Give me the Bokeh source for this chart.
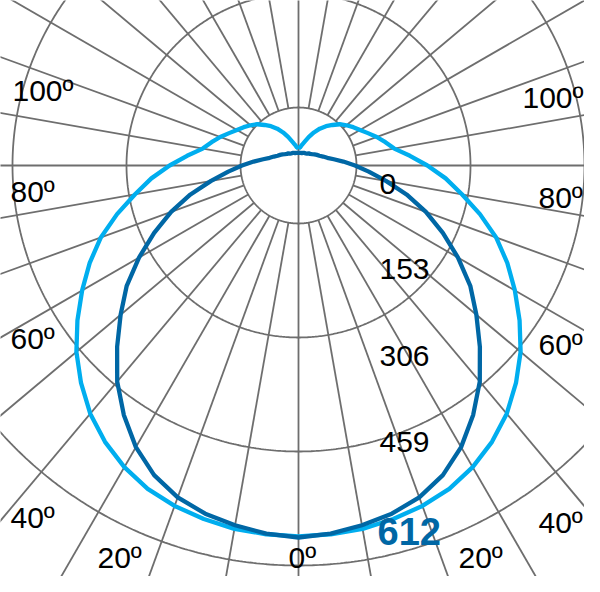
import numpy as np
from bokeh.plotting import figure
from bokeh.models import Range1d
from bokeh.embed import file_html
from bokeh.resources import INLINE
from bokeh.core.properties import value

# ---------------- data ----------------
gamma_deg = [0, 5, 10, 15, 20, 25, 30, 35, 40, 45, 50, 55, 60, 65, 70, 75, 80, 85, 90,
             95, 100, 105, 110, 115, 120, 125, 130, 135, 140, 145, 150, 155, 160, 165,
             170, 175, 180]
# dark blue curve (cd)
dark_cd = [612, 608, 601, 593, 581, 562, 535, 501, 464, 422, 382, 345, 303, 262, 223,
           184, 146, 116, 93, 74, 59, 49, 43, 38, 35, 32, 29, 27, 26, 24, 23, 23, 22,
           21, 21, 21, 21]
# light blue curve (cd)
light_cd = [610, 609, 607, 602, 596, 587, 573, 555, 533, 506, 477, 444, 411, 379, 346,
            309, 273, 243, 212, 184, 160, 148, 137, 126, 117, 110, 103, 96, 87, 79, 70,
            60, 50, 41, 35, 30, 28]
ring_labels = ["0", "153", "306", "459", "612"]
angle_labels_left = ["100º", "80º", "60º", "40º", "20º"]
angle_labels_right = ["100º", "80º", "60º", "40º", "20º"]
angle_label_bottom = ["0º"]

# ---------------- layout / style ----------------
CX, CY = 298.0, 165.0          # pole of the diagram (reference pixels)
PX_PER_CD = 372.0 / 612.0      # radial scale
RING_R = [58, 172, 286, 400, 514]
INNER_R = 58
SPOKE_STEP = 10
GRID_COLOR = "#6e6e6e"
GRID_W = 1.8
DARK = "#0067a5"
LIGHT = "#00aeef"
FONT = "Liberation Sans"

p = figure(width=584, height=576, x_range=Range1d(0, 584), y_range=Range1d(576, 0),
           x_axis_type=None, y_axis_type=None, toolbar_location=None,
           output_backend="svg", min_border=0)
p.outline_line_color = None
p.background_fill_color = "white"
p.border_fill_color = "white"

# rings
t = np.linspace(0, 2 * np.pi, 721)
p.multi_line(xs=[list(CX + r * np.sin(t)) for r in RING_R],
             ys=[list(CY + r * np.cos(t)) for r in RING_R],
             line_color=GRID_COLOR, line_width=GRID_W)

# spokes
sp_x, sp_y = [], []
for a in range(0, 360, SPOKE_STEP):
    if a in (0, 180):
        continue
    ar = np.radians(a)
    sp_x.append([CX + INNER_R * np.sin(ar), CX + 900 * np.sin(ar)])
    sp_y.append([CY + INNER_R * np.cos(ar), CY + 900 * np.cos(ar)])
sp_x.append([CX, CX])
sp_y.append([CY - 900, CY + 900])
p.multi_line(xs=sp_x, ys=sp_y, line_color=GRID_COLOR, line_width=GRID_W)


def curve(vals):
    g = np.radians(np.array(gamma_deg, dtype=float))
    r = np.array(vals, dtype=float) * PX_PER_CD
    gf = np.concatenate([-g[::-1], g[1:]])
    rf = np.concatenate([r[::-1], r[1:]])
    return CX + rf * np.sin(gf), CY + rf * np.cos(gf)


lx, ly = curve(light_cd)
p.line(lx, ly, line_color=LIGHT, line_width=4.3, line_join="round")
dx, dy = curve(dark_cd)
p.line(dx, dy, line_color=DARK, line_width=4.3, line_join="round")

# radial value labels
val_y = [183, 268, 355, 441]
p.text(x=[379] * 4, y=val_y, text=ring_labels[:4], text_font=value(FONT),
       text_font_size="30px", text_align="left", text_baseline="middle",
       text_color="black")
p.text(x=[377], y=[531], text=ring_labels[4:], text_font=value(FONT),
       text_font_size="38px", text_font_style="bold", text_align="left",
       text_baseline="middle", text_color=DARK)

# angle labels
p.text(x=[12, 10, 10, 10, 97], y=[90, 191, 338, 517, 557], text=angle_labels_left,
       text_font=value(FONT), text_font_size="30px", text_align="left",
       text_baseline="middle", text_color="black")
p.text(x=[522, 538, 538, 538, 458], y=[97, 197, 344, 522, 557], text=angle_labels_right,
       text_font=value(FONT), text_font_size="30px", text_align="left",
       text_baseline="middle", text_color="black")
p.text(x=[288], y=[557], text=angle_label_bottom,
       text_font=value(FONT), text_font_size="30px", text_align="left",
       text_baseline="middle", text_color="black")

open("out.html", "w").write(file_html(p, INLINE))
